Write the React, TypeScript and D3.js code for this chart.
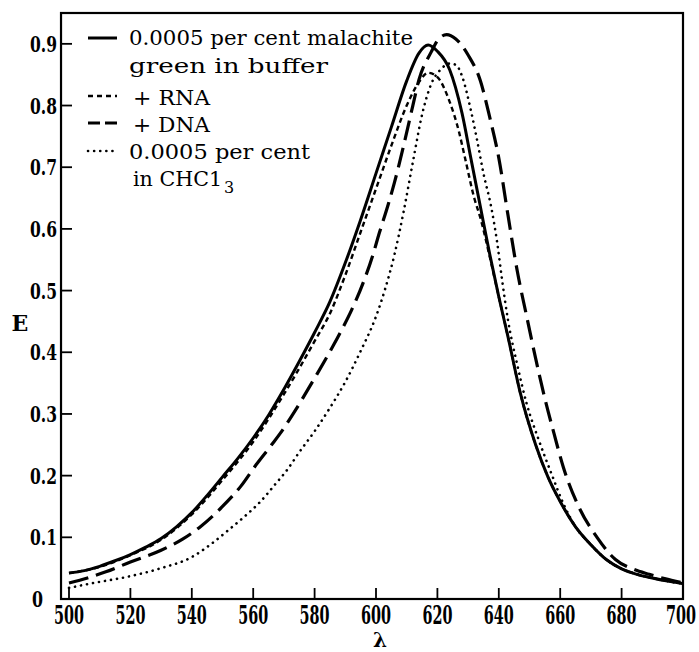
import React from 'react';
import * as d3 from 'd3';

// malachite green in buffer (solid)
const bufferNm = [500, 505, 510, 515, 520, 525, 530, 535, 540, 545, 550, 555, 560, 565, 570, 575, 580, 585, 590, 595, 600, 605, 610, 614, 617, 620, 624, 628, 631, 634, 637, 640, 643, 647, 652, 656, 660, 665, 670, 675, 680, 685, 690, 695, 700];
const bufferE = [0.042, 0.046, 0.053, 0.062, 0.072, 0.084, 0.098, 0.117, 0.140, 0.168, 0.198, 0.228, 0.261, 0.298, 0.340, 0.385, 0.432, 0.482, 0.545, 0.615, 0.690, 0.765, 0.840, 0.885, 0.898, 0.888, 0.858, 0.788, 0.712, 0.636, 0.560, 0.490, 0.425, 0.334, 0.250, 0.198, 0.158, 0.117, 0.088, 0.064, 0.049, 0.040, 0.034, 0.029, 0.025];

// + RNA (short dashes)
const rnaNm = [500, 510, 520, 530, 540, 550, 560, 570, 575, 580, 585, 590, 595, 600, 605, 610, 614, 617, 620, 624, 627, 629, 632, 634, 637, 640, 643, 647, 652, 656, 660, 665, 670, 675, 680, 685, 690, 695, 700];
const rnaE = [0.042, 0.052, 0.071, 0.096, 0.137, 0.193, 0.255, 0.332, 0.374, 0.418, 0.463, 0.525, 0.595, 0.665, 0.735, 0.800, 0.838, 0.853, 0.846, 0.806, 0.758, 0.715, 0.650, 0.618, 0.556, 0.490, 0.425, 0.334, 0.250, 0.198, 0.158, 0.117, 0.088, 0.064, 0.049, 0.040, 0.034, 0.029, 0.025];

// + DNA (long dashes)
const dnaNm = [500, 506, 512, 520, 530, 537, 543, 550, 556, 561, 566, 570, 573, 580, 586, 589, 592, 596, 599, 601, 604, 606, 609, 612, 614, 618, 620, 623, 626, 630, 634, 637, 640, 643, 646, 649, 652, 655, 658, 661, 666, 672, 678, 684, 689, 694, 700];
const dnaE = [0.026, 0.034, 0.044, 0.060, 0.079, 0.097, 0.118, 0.150, 0.183, 0.218, 0.250, 0.277, 0.300, 0.358, 0.410, 0.438, 0.468, 0.515, 0.558, 0.592, 0.640, 0.675, 0.735, 0.800, 0.842, 0.887, 0.905, 0.915, 0.908, 0.882, 0.840, 0.782, 0.715, 0.622, 0.532, 0.460, 0.390, 0.325, 0.268, 0.214, 0.150, 0.100, 0.064, 0.048, 0.040, 0.033, 0.026];

// malachite green in CHCl3 (dotted)
const chclNm = [500, 508, 519, 530, 540, 546, 552, 557, 562, 567, 571, 575, 580, 585, 590, 595, 600, 603, 606, 609, 612, 615, 618, 621, 624, 626, 628, 631, 633, 635, 637.5, 639.5, 641, 643, 646, 649, 653, 657, 661, 665, 670, 675, 680, 685, 690, 695, 700];
const chclE = [0.018, 0.026, 0.036, 0.050, 0.068, 0.088, 0.112, 0.133, 0.156, 0.185, 0.209, 0.238, 0.272, 0.310, 0.352, 0.402, 0.458, 0.503, 0.558, 0.628, 0.708, 0.785, 0.835, 0.858, 0.868, 0.866, 0.848, 0.790, 0.742, 0.690, 0.636, 0.577, 0.520, 0.452, 0.380, 0.318, 0.258, 0.205, 0.155, 0.117, 0.088, 0.064, 0.049, 0.040, 0.034, 0.029, 0.025];

const xTicks = [500, 520, 540, 560, 580, 600, 620, 640, 660, 680, 700];
const yTicks = [0.1, 0.2, 0.3, 0.4, 0.5, 0.6, 0.7, 0.8, 0.9];

const legendLines = ['0.0005 per cent malachite', 'green in buffer', '+ RNA', '+ DNA', '0.0005 per cent', 'in CHC1'];

const W = 699, H = 652;
const font = '"DejaVu Serif", serif';

export default function App() {
    const x = d3.scaleLinear().domain([500, 700]).range([69, 683]);
    const y = d3.scaleLinear().domain([0, 0.95]).range([599, 13]);
    const left = x(497.4), right = x(700), top = y(0.95), bottom = y(0);

    const line = d3.line<number>().curve(d3.curveMonotoneX);
    const path = (nm: number[], e: number[]) => line(nm.map((v, i) => [x(v), y(e[i])]) as any);

    const series = [
        { d: path(chclNm, chclE), w: 2.6, dash: '0.1 6', cap: 'round' },
        { d: path(dnaNm, dnaE), w: 3.2, dash: '20 8', cap: 'butt' },
        { d: path(rnaNm, rnaE), w: 2.4, dash: '5 3.5', cap: 'butt' },
        { d: path(bufferNm, bufferE), w: 3, dash: null, cap: 'butt' },
    ];

    // legend: sample line + text rows
    const rows = [
        { sy: 38, dash: null, w: 3, cap: 'butt', ty: 45, tx: 129, len: 284, text: legendLines[0] },
        { sy: null, dash: null, w: 0, cap: 'butt', ty: 73, tx: 129, len: 199, text: legendLines[1] },
        { sy: 96, dash: '5 4', w: 2.4, cap: 'butt', ty: 105, tx: 133, len: 77, text: legendLines[2] },
        { sy: 123, dash: '12 5', w: 3.2, cap: 'butt', ty: 132, tx: 133, len: 77, text: legendLines[3] },
        { sy: 151, dash: '0.1 6', w: 2.6, cap: 'round', ty: 159, tx: 129, len: 181, text: legendLines[4] },
        { sy: null, dash: null, w: 0, cap: 'butt', ty: 186, tx: 133, len: 89, text: legendLines[5] },
    ];

    return (
        <svg width={W} height={H} style={{ position: 'absolute', left: 0, top: 0, background: '#fff' }}>
            {/* frame */}
            <rect x={left} y={top} width={right - left} height={bottom - top} fill="none" stroke="#000" strokeWidth={2.2} />

            {/* ticks */}
            {xTicks.map(t => {
                const last = t === 700;
                return (
                    <g key={'x' + t}>
                        <line x1={x(t)} x2={x(t)} y1={bottom} y2={bottom - 11} stroke="#000" strokeWidth={1.8} />
                        <text x={last ? x(t) + 13 : x(t)} y={bottom + 25} textAnchor={last ? 'end' : 'middle'}
                            fontFamily={font} fontWeight="bold" fontSize={26} textLength={30}
                            lengthAdjust="spacingAndGlyphs">{t}</text>
                    </g>
                );
            })}
            {yTicks.map(t => (
                <g key={'y' + t}>
                    <line x1={left} x2={left + 11} y1={y(t)} y2={y(t)} stroke="#000" strokeWidth={1.8} />
                    <text x={57} y={y(t) + 8} textAnchor="end" fontFamily={font} fontWeight="bold"
                        fontSize={22} textLength={27} lengthAdjust="spacingAndGlyphs">{d3.format('.1f')(t)}</text>
                </g>
            ))}
            <text x={43} y={y(0) + 8} textAnchor="end" fontFamily={font} fontWeight="bold" fontSize={22}
                textLength={11} lengthAdjust="spacingAndGlyphs">0</text>

            {/* axis titles */}
            <text x={20} y={331} textAnchor="middle" fontFamily={font} fontWeight="bold" fontSize={22}>E</text>
            <text x={380} y={647} textAnchor="middle" fontFamily={font} fontWeight="bold" fontSize={20}>λ</text>

            {/* curves */}
            {series.map((s, i) => (
                <path key={i} d={s.d || ''} fill="none" stroke="#000" strokeWidth={s.w}
                    strokeDasharray={s.dash || undefined} strokeLinecap={s.cap as any} strokeLinejoin="round" />
            ))}

            {/* legend */}
            {rows.map((r, i) => (
                <g key={'l' + i}>
                    {r.sy != null && (
                        <line x1={88} x2={117} y1={r.sy} y2={r.sy} stroke="#000" strokeWidth={r.w}
                            strokeDasharray={r.dash || undefined} strokeLinecap={r.cap as any} />
                    )}
                    <text x={r.tx} y={r.ty} fontFamily={font} fontSize={20} textLength={r.len}
                        lengthAdjust="spacingAndGlyphs">{r.text}</text>
                </g>
            ))}
            <text x={224} y={193} fontFamily={font} fontSize={16}>3</text>
        </svg>
    );
}
